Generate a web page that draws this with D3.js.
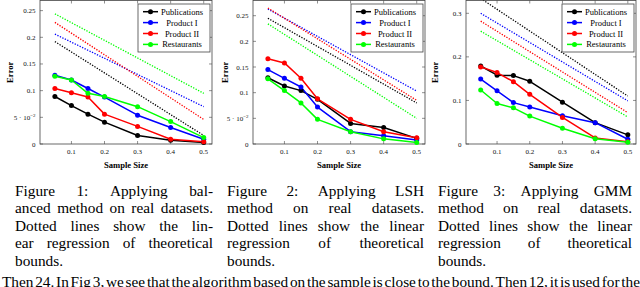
<!DOCTYPE html>
<html><head><meta charset="utf-8">
<script src="https://cdn.jsdelivr.net/npm/d3@7"></script>
<style>body{margin:0;background:#fff}svg{display:block}</style>
</head><body>
<svg id="c" width="640" height="287"></svg>
<script>
// ---------- data ----------
const sampleSizes = [0.05, 0.1, 0.15, 0.2, 0.3, 0.4, 0.5];
const seriesNames = ["Publications", "Product I", "Product II", "Restaurants"];
const seriesColors = ["#000000", "#0000ff", "#ff0000", "#00ff00"];
const xTicks = [0.1, 0.2, 0.3, 0.4, 0.5];
const boundX = [0.05, 0.5];

// Figure 1: balanced method
const balPublications = [0.089, 0.072, 0.056, 0.041, 0.016, 0.007, 0.003];
const balProductI     = [0.129, 0.120, 0.104, 0.088, 0.054, 0.031, 0.009];
const balProductII    = [0.104, 0.096, 0.088, 0.056, 0.033, 0.009, 0.004];
const balRestaurants  = [0.127, 0.120, 0.095, 0.089, 0.070, 0.042, 0.012];
const balBoundPublications = [0.192, 0.016];
const balBoundProductI     = [0.206, 0.070];
const balBoundProductII    = [0.228, 0.046];
const balBoundRestaurants  = [0.244, 0.095];
const balYTicks = [0, 0.05, 0.1, 0.15, 0.2, 0.25];

// Figure 2: LSH method
const lshPublications = [0.129, 0.113, 0.104, 0.087, 0.040, 0.032, 0.011];
const lshProductI     = [0.145, 0.128, 0.111, 0.072, 0.024, 0.016, 0.008];
const lshProductII    = [0.166, 0.158, 0.128, 0.088, 0.048, 0.024, 0.012];
const lshRestaurants  = [0.127, 0.104, 0.080, 0.048, 0.024, 0.010, 0.003];
const lshBoundPublications = [0.245, 0.080];
const lshBoundProductI     = [0.263, 0.103];
const lshBoundProductII    = [0.265, 0.085];
const lshBoundRestaurants  = [0.234, 0.050];
const lshYTicks = [0, 0.05, 0.1, 0.15, 0.2, 0.25];

// Figure 3: GMM method
const gmmPublications = [0.179, 0.158, 0.157, 0.144, 0.096, 0.049, 0.021];
const gmmProductI     = [0.149, 0.122, 0.095, 0.085, 0.065, 0.049, 0.011];
const gmmProductII    = [0.177, 0.164, 0.143, 0.114, 0.061, 0.014, 0.005];
const gmmRestaurants  = [0.124, 0.093, 0.083, 0.064, 0.036, 0.012, 0.004];
const gmmBoundPublications = [0.334, 0.110];
const gmmBoundProductI     = [0.300, 0.099];
const gmmBoundProductII    = [0.282, 0.072];
const gmmBoundRestaurants  = [0.259, 0.062];
const gmmYTicks = [0, 0.1, 0.2, 0.3];

const caption1 = ["Figure 1: Applying bal-", "anced method on real datasets.", "Dotted lines show the lin-", "ear regression of theoretical", "bounds."];
const caption2 = ["Figure 2: Applying LSH", "method on real datasets.", "Dotted lines show the linear", "regression of theoretical", "bounds."];
const caption3 = ["Figure 3: Applying GMM", "method on real datasets.", "Dotted lines show the linear", "regression of theoretical", "bounds."];
const bodyLine = "Then 24. In Fig 3, we see that the algorithm based on the sample is close to the bound. Then 12, it is used for the";

// ---------- drawing ----------
const svg = d3.select("#c");
const serif = "'Liberation Serif','Times New Roman',serif";

const panels = [
  {left: 40, right: 212, yMax: 0.269, yTicks: balYTicks, labelX: 10,
   series: [balPublications, balProductI, balProductII, balRestaurants],
   bounds: [balBoundPublications, balBoundProductI, balBoundProductII, balBoundRestaurants]},
  {left: 253, right: 425, yMax: 0.2796, yTicks: lshYTicks, labelX: 225,
   series: [lshPublications, lshProductI, lshProductII, lshRestaurants],
   bounds: [lshBoundPublications, lshBoundProductI, lshBoundProductII, lshBoundRestaurants]},
  {left: 466, right: 636, yMax: 0.3294, yTicks: gmmYTicks, labelX: 435,
   series: [gmmPublications, gmmProductI, gmmProductII, gmmRestaurants],
   bounds: [gmmBoundPublications, gmmBoundProductI, gmmBoundProductII, gmmBoundRestaurants]}
];

const plotTop = 0.5, plotBottom = 144;

function yLabelText(sel, v) {
  if (v === 0.05) {
    sel.text("5 \u00B7 10");
    sel.append("tspan").attr("dy", -3).attr("font-size", 5).text("\u22122");
  } else {
    sel.text(String(v));
  }
}

panels.forEach((p, pi) => {
  const x = d3.scaleLinear().domain([0.005, 0.525]).range([p.left, p.right]);
  const y = d3.scaleLinear().domain([0, p.yMax]).range([plotBottom, plotTop]);
  const g = svg.append("g");

  const clipId = "clip" + pi;
  svg.append("clipPath").attr("id", clipId).append("rect")
    .attr("x", p.left).attr("y", plotTop).attr("width", p.right - p.left).attr("height", plotBottom - plotTop);

  // frame
  g.append("rect").attr("x", p.left).attr("y", plotTop)
    .attr("width", p.right - p.left).attr("height", plotBottom - plotTop)
    .attr("fill", "none").attr("stroke", "#444").attr("stroke-width", 0.8);

  // x ticks (inward, bottom and top)
  xTicks.forEach(t => {
    g.append("line").attr("x1", x(t)).attr("x2", x(t)).attr("y1", plotBottom).attr("y2", plotBottom - 3)
      .attr("stroke", "#444").attr("stroke-width", 0.6);
    g.append("line").attr("x1", x(t)).attr("x2", x(t)).attr("y1", plotTop).attr("y2", plotTop + 3)
      .attr("stroke", "#444").attr("stroke-width", 0.6);
    g.append("text").attr("x", x(t)).attr("y", 153.5).attr("text-anchor", "middle")
      .attr("font-family", serif).attr("font-size", 7).attr("fill", "#111").text(String(t));
  });
  // y ticks
  p.yTicks.forEach(t => {
    g.append("line").attr("x1", p.left).attr("x2", p.left + 3).attr("y1", y(t)).attr("y2", y(t))
      .attr("stroke", "#444").attr("stroke-width", 0.6);
    g.append("line").attr("x1", p.right).attr("x2", p.right - 3).attr("y1", y(t)).attr("y2", y(t))
      .attr("stroke", "#444").attr("stroke-width", 0.6);
    const tx = g.append("text").attr("x", p.left - 4.5).attr("y", y(t) + 2.5).attr("text-anchor", "end")
      .attr("font-family", serif).attr("font-size", 7).attr("fill", "#111");
    yLabelText(tx, t);
  });

  // axis labels
  g.append("text").attr("x", (p.left + p.right) / 2).attr("y", 167.5).attr("text-anchor", "middle")
    .attr("font-family", serif).attr("font-weight", "bold").attr("font-size", 8.6).text("Sample Size");
  g.append("text").attr("transform", `translate(${p.labelX + 3},${(plotTop + plotBottom) / 2}) rotate(-90)`)
    .attr("text-anchor", "middle").attr("font-family", serif).attr("font-weight", "bold")
    .attr("font-size", 8.6).text("Error");

  const plot = g.append("g").attr("clip-path", `url(#${clipId})`);
  const line = d3.line().x(d => x(d[0])).y(d => y(d[1]));

  // dotted regression bounds
  p.bounds.forEach((b, i) => {
    plot.append("path").datum(boundX.map((xv, k) => [xv, b[k]]))
      .attr("d", line).attr("fill", "none").attr("stroke", seriesColors[i])
      .attr("stroke-width", 1.3).attr("stroke-dasharray", "1.3,1.45");
  });
  // data series
  p.series.forEach((s, i) => {
    const pts = sampleSizes.map((xv, k) => [xv, s[k]]);
    plot.append("path").datum(pts).attr("d", line).attr("fill", "none")
      .attr("stroke", seriesColors[i]).attr("stroke-width", 1.5).attr("stroke-linejoin", "round");
    g.selectAll(null).data(pts).enter().append("circle")
      .attr("cx", d => x(d[0])).attr("cy", d => y(d[1])).attr("r", 2.5)
      .attr("fill", seriesColors[i]);
  });

  // legend
  const lx = p.right - 74, ly = 4, lw = 72, lh = 48;
  g.append("rect").attr("x", lx).attr("y", ly).attr("width", lw).attr("height", lh)
    .attr("fill", "#fff").attr("stroke", "#444").attr("stroke-width", 0.8);
  seriesNames.forEach((n, i) => {
    const cy = ly + 7.7 + i * 10.9;
    g.append("line").attr("x1", lx + 5).attr("x2", lx + 20).attr("y1", cy).attr("y2", cy)
      .attr("stroke", seriesColors[i]).attr("stroke-width", 1.5);
    g.append("circle").attr("cx", lx + 12.5).attr("cy", cy).attr("r", 2.5).attr("fill", seriesColors[i]);
    g.append("text").attr("x", lx + 44).attr("y", cy + 3).attr("text-anchor", "middle")
      .attr("font-family", serif).attr("font-size", 8.5).text(n);
  });
});

// ---------- captions (justified) ----------
function justify(lines, x0, x1, y0, lh, fs, lastJustified) {
  lines.forEach((ln, i) => {
    const words = ln.split(" ");
    const t = svg.append("text").attr("y", y0 + i * lh).attr("font-family", serif)
      .attr("font-size", fs).attr("fill", "#000");
    const widths = words.map(w => {
      const tmp = t.append("tspan").text(w);
      const wd = tmp.node().getComputedTextLength();
      tmp.remove();
      return wd;
    });
    const sp = fs * 0.25;
    const last = i === lines.length - 1 && !lastJustified;
    const gap = last || words.length < 2 ? sp : (x1 - x0 - d3.sum(widths)) / (words.length - 1);
    let cx = x0;
    words.forEach((w, j) => {
      t.append("tspan").attr("x", cx).text(w);
      cx += widths[j] + gap;
    });
  });
}
justify(caption1, 15, 213, 196, 17.4, 15.3, false);
justify(caption2, 227, 424, 196, 17.4, 15.3, false);
justify(caption3, 438, 632, 196, 17.4, 15.3, false);
justify([bodyLine], 2, 640, 286.5, 17.4, 15.3, true);
</script>
</body></html>
